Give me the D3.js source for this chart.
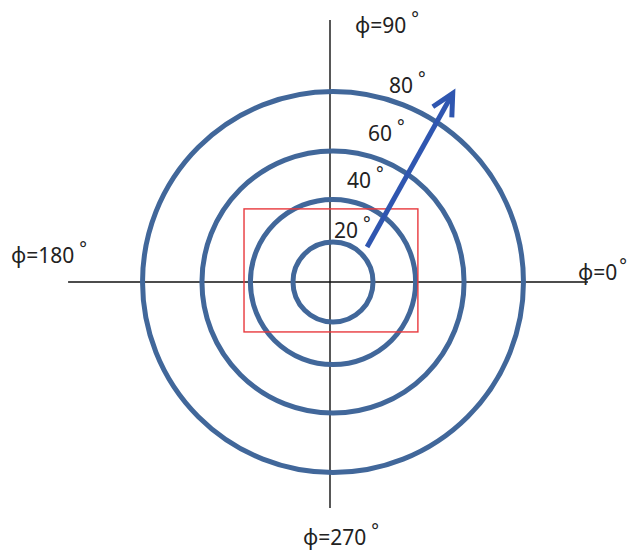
<!DOCTYPE html>
<html><head><meta charset="utf-8">
<script src="https://cdn.jsdelivr.net/npm/d3@7"></script>
<style>body{margin:0;background:#fff}svg{display:block}</style>
</head><body>
<svg id="c" width="633" height="554"></svg>
<script>
// zenith-angle rings (degrees)
const ringAngles = [20, 40, 60, 80];
const ringLabels = ["20", "40", "60", "80"];
// azimuth axis labels
const axisPhi = [0, 90, 180, 270];
const axisLabels = ["ϕ=0", "ϕ=90", "ϕ=180", "ϕ=270"];
// arrow (theta, phi) start/end in degrees
const arrowTheta = [24.3, 89.1];
const arrowPhi = [45.8, 57.6];
// red box extents in projected units (tan(theta/2))
const boxU = [-0.392, 0.374];
const boxV = [-0.220, 0.322];
// axis extents in projected units
const axisH = [-1.167, 1.123];
const axisV = [-0.996, 1.154];

const svg = d3.select("#c");
const cx = 333, cy = 282, K = 227, axisX = 330;
const sx = d3.scaleLinear().domain([0, 1]).range([cx, cx + K]);
const sy = d3.scaleLinear().domain([0, 1]).range([cy, cy - K]);
const proj = t => Math.tan(t * Math.PI / 360);
const rScale = t => sx(proj(t)) - cx;
const pt = (t, p) => [sx(proj(t) * Math.cos(p * Math.PI / 180)), sy(proj(t) * Math.sin(p * Math.PI / 180))];

// axes
svg.append("line").attr("x1", sx(axisH[0])).attr("x2", sx(axisH[1])).attr("y1", cy).attr("y2", cy)
  .attr("stroke", "#111").attr("stroke-width", 1.4);
svg.append("line").attr("x1", axisX).attr("x2", axisX).attr("y1", sy(axisV[1])).attr("y2", sy(axisV[0]))
  .attr("stroke", "#111").attr("stroke-width", 1.4);

// rings
svg.selectAll("circle.ring").data(ringAngles).join("circle").attr("class", "ring")
  .attr("cx", cx).attr("cy", cy).attr("r", d => rScale(d))
  .attr("fill", "none").attr("stroke", "#41679a").attr("stroke-width", 5);

// red box
svg.append("rect").attr("x", sx(boxU[0])).attr("y", sy(boxV[1]))
  .attr("width", sx(boxU[1]) - sx(boxU[0])).attr("height", sy(boxV[0]) - sy(boxV[1]))
  .attr("fill", "none").attr("stroke", "#e8393d").attr("stroke-width", 1.4);

// arrow
const a0 = pt(arrowTheta[0], arrowPhi[0]), a1 = pt(arrowTheta[1], arrowPhi[1]);
const ang = Math.atan2(a1[1] - a0[1], a1[0] - a0[0]);
const hl = 24, ha = 0.47;
svg.append("line").attr("x1", a0[0]).attr("y1", a0[1]).attr("x2", a1[0] - 3 * Math.cos(ang)).attr("y2", a1[1] - 3 * Math.sin(ang))
  .attr("stroke", "#2f56b0").attr("stroke-width", 5);
svg.append("path")
  .attr("d", d3.line()([[a1[0] - hl * Math.cos(ang - ha), a1[1] - hl * Math.sin(ang - ha)], a1,
    [a1[0] - hl * Math.cos(ang + ha), a1[1] - hl * Math.sin(ang + ha)]]))
  .attr("fill", "none").attr("stroke", "#2f56b0").attr("stroke-width", 5)
  .attr("stroke-linejoin", "miter").attr("stroke-linecap", "butt");

const font = "'Noto Sans', 'Liberation Sans', sans-serif";
function label(x, y, txt, gap) {
  const t = svg.append("text").attr("x", x).attr("y", y).attr("font-family", font)
    .attr("font-size", 21).attr("fill", "#222");
  t.append("tspan").text(txt);
  t.append("tspan").attr("dx", gap).attr("dy", -8).attr("font-size", 18).text("°");
}
const ringLabelPos = [[334, 238], [347, 188], [368, 141], [389, 93]];
ringLabels.forEach((l, i) => label(ringLabelPos[i][0], ringLabelPos[i][1], l, 5));
const axisPos = [[578, 280], [355, 33], [11, 263], [303, 545]];
const axisGap = [2, 5, 5, 5];
axisLabels.forEach((l, i) => label(axisPos[i][0], axisPos[i][1], l, axisGap[i]));
</script>
</body></html>
